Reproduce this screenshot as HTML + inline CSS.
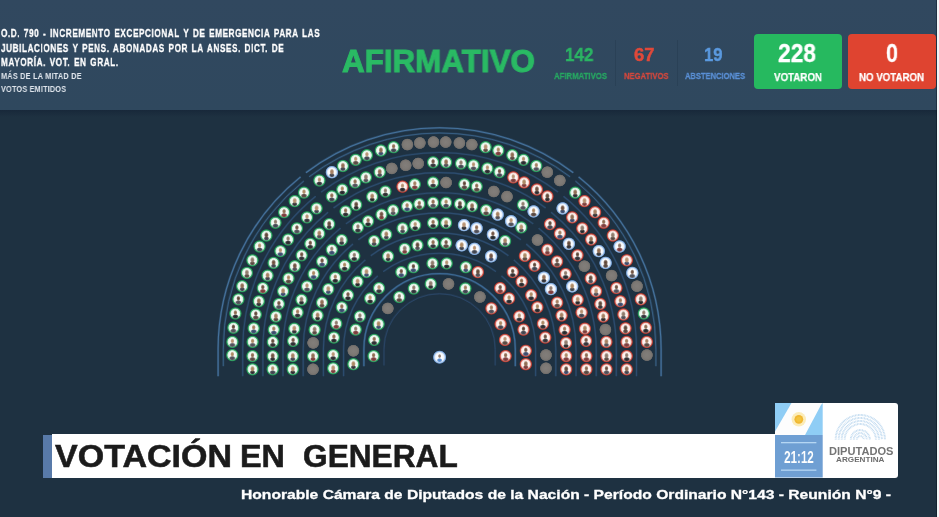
<!DOCTYPE html>
<html><head><meta charset="utf-8"><title>Votación</title>
<style>
html,body{margin:0;padding:0}
body{width:939px;height:517px;overflow:hidden;background:#1e3141;font-family:"Liberation Sans",sans-serif;position:relative}
.abs{position:absolute;white-space:nowrap;line-height:1}
#hdr{position:absolute;left:0;top:0;width:939px;height:110px;background:linear-gradient(#31485f,#2f485e)}
#shadow{position:absolute;left:0;top:110px;width:939px;height:7px;background:linear-gradient(#18283a,#1e3141)}
.t{font-weight:bold;color:#fff;transform-origin:0 0;will-change:transform}
#strip{position:absolute;left:936.8px;top:0;width:2.2px;height:517px;background:#f3f4f7}
#stripsh{position:absolute;left:935.5px;top:0;width:1.3px;height:517px;background:rgba(5,12,22,.38)}
.box{position:absolute;border-radius:4px}
</style></head><body>
<div id="hdr"></div><div id="shadow"></div>
<div class="abs t" id="l1" style="left:0.8px;top:28.1px;font-size:11.3px;letter-spacing:.8px;word-spacing:1.2px;-webkit-text-stroke:.3px #fff;transform:scale(0.7242,1)">O.D. 790 - INCREMENTO EXCEPCIONAL Y DE EMERGENCIA PARA LAS</div>
<div class="abs t" id="l2" style="left:0.8px;top:42.5px;font-size:11.3px;letter-spacing:.8px;word-spacing:1.2px;-webkit-text-stroke:.3px #fff;transform:scale(0.7243,1)">JUBILACIONES Y PENS. ABONADAS POR LA ANSES. DICT. DE</div>
<div class="abs t" id="l3" style="left:0.8px;top:56.8px;font-size:11.3px;letter-spacing:.8px;word-spacing:1.2px;-webkit-text-stroke:.3px #fff;transform:scale(0.7265,1)">MAYORÍA. VOT. EN GRAL.</div>
<div class="abs t" id="l4" style="left:0.8px;top:71.6px;font-size:9.2px;letter-spacing:.2px;color:#dfe5ec;transform:scale(0.8064,1)">MÁS DE LA MITAD DE</div>
<div class="abs t" id="l5" style="left:0.8px;top:85.1px;font-size:9.2px;letter-spacing:.2px;color:#dfe5ec;transform:scale(0.7974,1)">VOTOS EMITIDOS</div>
<div class="abs t" id="afi" style="left:342.0px;top:46.3px;font-size:31.5px;color:#2aba64;-webkit-text-stroke:1px #2aba64;transform:scale(0.9956,1)">AFIRMATIVO</div>
<div class="abs t" id="n1" style="left:565px;top:46.1px;font-size:18.5px;color:#2bb463;-webkit-text-stroke:.45px #2bb463;transform:scale(0.9231,1)">142</div>
<div class="abs t" id="c1" style="left:554px;top:71.2px;font-size:9.5px;color:#27a862;-webkit-text-stroke:.25px #27a862;transform:scale(0.8185,1.04)">AFIRMATIVOS</div>
<div class="abs t" id="n2" style="left:634px;top:46.1px;font-size:18.5px;color:#e0493a;-webkit-text-stroke:.45px #e0493a;transform:scale(0.9962,1)">67</div>
<div class="abs t" id="c2" style="left:624px;top:71.2px;font-size:9.5px;color:#d4483d;-webkit-text-stroke:.25px #d4483d;transform:scale(0.8054,1.04)">NEGATIVOS</div>
<div class="abs t" id="n3" style="left:704px;top:46.1px;font-size:18.5px;color:#5b9ae0;-webkit-text-stroke:.45px #5b9ae0;transform:scale(0.8990,1)">19</div>
<div class="abs t" id="c3" style="left:685px;top:71.2px;font-size:9.5px;color:#5a90d6;-webkit-text-stroke:.25px #5a90d6;transform:scale(0.7949,1.04)">ABSTENCIONES</div>
<div style="position:absolute;left:615px;top:40px;width:1px;height:46px;background:rgba(10,20,35,.13)"></div><div style="position:absolute;left:676.5px;top:40px;width:1px;height:46px;background:rgba(10,20,35,.13)"></div>
<div class="box" style="left:753.6px;top:34.2px;width:88.2px;height:54.5px;background:#26b95f"></div>
<div class="box" style="left:848px;top:34.2px;width:88.3px;height:54.5px;background:#df4430"></div>
<div class="abs t" id="v1" style="left:778.2px;top:41px;font-size:25px;-webkit-text-stroke:.3px #fff;transform:scale(0.9109,1)">228</div>
<div class="abs t" id="v2" style="left:773.6px;top:71.6px;font-size:11.5px;-webkit-text-stroke:.25px #fff;transform:scale(0.8472,1)">VOTARON</div>
<div class="abs t" id="w1" style="left:886.2px;top:41px;font-size:25px;-webkit-text-stroke:.3px #fff;transform:scale(0.8629,1)">0</div>
<div class="abs t" id="w2" style="left:859.3px;top:71.6px;font-size:11.5px;-webkit-text-stroke:.25px #fff;transform:scale(0.8444,1)">NO VOTARON</div>
<svg width="939" height="517" viewBox="0 0 939 517" style="position:absolute;left:0;top:0">
<defs>
<radialGradient id="gg"><stop offset="0" stop-color="#fbfefc"/><stop offset=".52" stop-color="#f1faf4"/><stop offset=".68" stop-color="#cdecd8"/><stop offset=".78" stop-color="#40ad72"/><stop offset=".86" stop-color="#27965a"/><stop offset=".93" stop-color="#1c7445" stop-opacity=".75"/><stop offset="1" stop-color="#1c7445" stop-opacity="0"/></radialGradient>
<radialGradient id="gr"><stop offset="0" stop-color="#fffcfb"/><stop offset=".52" stop-color="#fdf3f0"/><stop offset=".68" stop-color="#f3cdc6"/><stop offset=".78" stop-color="#d0645a"/><stop offset=".86" stop-color="#b6433a"/><stop offset=".93" stop-color="#88302b" stop-opacity=".75"/><stop offset="1" stop-color="#88302b" stop-opacity="0"/></radialGradient>
<radialGradient id="gb"><stop offset="0" stop-color="#fff"/><stop offset=".52" stop-color="#f9fbff"/><stop offset=".68" stop-color="#e0ebf8"/><stop offset=".78" stop-color="#a6c5ec"/><stop offset=".86" stop-color="#82abdc"/><stop offset=".93" stop-color="#6c95ca" stop-opacity=".75"/><stop offset="1" stop-color="#6c95ca" stop-opacity="0"/></radialGradient>
<radialGradient id="gx"><stop offset="0" stop-color="#827e7a"/><stop offset=".6" stop-color="#7d7975"/><stop offset=".82" stop-color="#76726e"/><stop offset=".92" stop-color="#75726e" stop-opacity=".8"/><stop offset="1" stop-color="#75726e" stop-opacity="0"/></radialGradient>
<radialGradient id="b0"><stop offset="0" stop-color="#2c2d33"/><stop offset=".55" stop-color="#2c2d33" stop-opacity=".9"/><stop offset="1" stop-color="#2c2d33" stop-opacity="0"/></radialGradient>
<radialGradient id="b1"><stop offset="0" stop-color="#3a3e4a"/><stop offset=".55" stop-color="#3a3e4a" stop-opacity=".9"/><stop offset="1" stop-color="#3a3e4a" stop-opacity="0"/></radialGradient>
<radialGradient id="b2"><stop offset="0" stop-color="#202226"/><stop offset=".55" stop-color="#202226" stop-opacity=".9"/><stop offset="1" stop-color="#202226" stop-opacity="0"/></radialGradient>
<radialGradient id="b3"><stop offset="0" stop-color="#54433c"/><stop offset=".55" stop-color="#54433c" stop-opacity=".9"/><stop offset="1" stop-color="#54433c" stop-opacity="0"/></radialGradient>
<radialGradient id="b4"><stop offset="0" stop-color="#35466a"/><stop offset=".55" stop-color="#35466a" stop-opacity=".9"/><stop offset="1" stop-color="#35466a" stop-opacity="0"/></radialGradient>
<radialGradient id="b5"><stop offset="0" stop-color="#26262a"/><stop offset=".55" stop-color="#26262a" stop-opacity=".9"/><stop offset="1" stop-color="#26262a" stop-opacity="0"/></radialGradient>
<radialGradient id="b6"><stop offset="0" stop-color="#7a3636"/><stop offset=".55" stop-color="#7a3636" stop-opacity=".9"/><stop offset="1" stop-color="#7a3636" stop-opacity="0"/></radialGradient>
<radialGradient id="b7"><stop offset="0" stop-color="#4a4a54"/><stop offset=".55" stop-color="#4a4a54" stop-opacity=".9"/><stop offset="1" stop-color="#4a4a54" stop-opacity="0"/></radialGradient>
<radialGradient id="h0"><stop offset="0" stop-color="#8a6448"/><stop offset=".5" stop-color="#8a6448" stop-opacity=".85"/><stop offset="1" stop-color="#8a6448" stop-opacity="0"/></radialGradient>
<radialGradient id="h1"><stop offset="0" stop-color="#a07858"/><stop offset=".5" stop-color="#a07858" stop-opacity=".85"/><stop offset="1" stop-color="#a07858" stop-opacity="0"/></radialGradient>
<radialGradient id="h2"><stop offset="0" stop-color="#6a4a38"/><stop offset=".5" stop-color="#6a4a38" stop-opacity=".85"/><stop offset="1" stop-color="#6a4a38" stop-opacity="0"/></radialGradient>
<radialGradient id="h3"><stop offset="0" stop-color="#b48c6a"/><stop offset=".5" stop-color="#b48c6a" stop-opacity=".85"/><stop offset="1" stop-color="#b48c6a" stop-opacity="0"/></radialGradient>
<radialGradient id="h4"><stop offset="0" stop-color="#8a7464"/><stop offset=".5" stop-color="#8a7464" stop-opacity=".85"/><stop offset="1" stop-color="#8a7464" stop-opacity="0"/></radialGradient>
<radialGradient id="h5"><stop offset="0" stop-color="#5a4030"/><stop offset=".5" stop-color="#5a4030" stop-opacity=".85"/><stop offset="1" stop-color="#5a4030" stop-opacity="0"/></radialGradient>
<radialGradient id="h6"><stop offset="0" stop-color="#a8825a"/><stop offset=".5" stop-color="#a8825a" stop-opacity=".85"/><stop offset="1" stop-color="#a8825a" stop-opacity="0"/></radialGradient>
<radialGradient id="bp"><stop offset="0" stop-color="#4f86cc"/><stop offset=".55" stop-color="#4f86cc" stop-opacity=".9"/><stop offset="1" stop-color="#4f86cc" stop-opacity="0"/></radialGradient>
</defs>
<g fill="none">
<path d="M218.1 376.3V349.35A221.5 221.5 0 0 1 300.6 176.9M305.9 172.7A221.5 221.5 0 0 1 573.3 172.7M578.6 176.9A221.5 221.5 0 0 1 661.1 349.35V376.3" stroke="#4a7aa8" stroke-width="2.3" opacity="0.32"/><path d="M218.1 376.3V349.35A221.5 221.5 0 0 1 300.6 176.9M305.9 172.7A221.5 221.5 0 0 1 573.3 172.7M578.6 176.9A221.5 221.5 0 0 1 661.1 349.35V376.3" stroke="#4a7aa8" stroke-width="1.1" opacity="0.85"/>
<path d="M223.3 366.2V349.35A216.3 216.3 0 0 1 303.8 181.0M309.1 176.8A216.3 216.3 0 0 1 570.1 176.8M575.4 181.0A216.3 216.3 0 0 1 655.9 349.35V366.2" stroke="#3d6890" stroke-width="2.2" opacity="0.29"/><path d="M223.3 366.2V349.35A216.3 216.3 0 0 1 303.8 181.0M309.1 176.8A216.3 216.3 0 0 1 570.1 176.8M575.4 181.0A216.3 216.3 0 0 1 655.9 349.35V366.2" stroke="#3d6890" stroke-width="1.0" opacity="0.75"/>
<path d="M242.7 376.3V349.35A196.9 196.9 0 0 1 315.7 196.3M321.1 192.1A196.9 196.9 0 0 1 558.1 192.1M563.5 196.3A196.9 196.9 0 0 1 636.5 349.35V376.3" stroke="#2f5074" stroke-width="2.3" opacity="0.32"/><path d="M242.7 376.3V349.35A196.9 196.9 0 0 1 315.7 196.3M321.1 192.1A196.9 196.9 0 0 1 558.1 192.1M563.5 196.3A196.9 196.9 0 0 1 636.5 349.35V376.3" stroke="#2f5074" stroke-width="1.1" opacity="0.85"/>
<path d="M262.9 376.3V349.35A176.7 176.7 0 0 1 328.1 212.2M333.5 208.0A176.7 176.7 0 0 1 545.7 208.0M551.1 212.2A176.7 176.7 0 0 1 616.3 349.35V376.3" stroke="#2f5074" stroke-width="2.3" opacity="0.32"/><path d="M262.9 376.3V349.35A176.7 176.7 0 0 1 328.1 212.2M333.5 208.0A176.7 176.7 0 0 1 545.7 208.0M551.1 212.2A176.7 176.7 0 0 1 616.3 349.35V376.3" stroke="#2f5074" stroke-width="1.1" opacity="0.85"/>
<path d="M283.0 376.3V349.35A156.6 156.6 0 0 1 340.6 228.1M345.9 223.9A156.6 156.6 0 0 1 533.3 223.9M538.6 228.1A156.6 156.6 0 0 1 596.2 349.35V376.3" stroke="#2f5074" stroke-width="2.3" opacity="0.32"/><path d="M283.0 376.3V349.35A156.6 156.6 0 0 1 340.6 228.1M345.9 223.9A156.6 156.6 0 0 1 533.3 223.9M538.6 228.1A156.6 156.6 0 0 1 596.2 349.35V376.3" stroke="#2f5074" stroke-width="1.1" opacity="0.85"/>
<path d="M303.2 376.3V349.35A136.4 136.4 0 0 1 353.0 244.0M358.3 239.8A136.4 136.4 0 0 1 520.9 239.8M526.2 244.0A136.4 136.4 0 0 1 576.0 349.35V376.3" stroke="#2f5074" stroke-width="2.3" opacity="0.32"/><path d="M303.2 376.3V349.35A136.4 136.4 0 0 1 353.0 244.0M358.3 239.8A136.4 136.4 0 0 1 520.9 239.8M526.2 244.0A136.4 136.4 0 0 1 576.0 349.35V376.3" stroke="#2f5074" stroke-width="1.1" opacity="0.85"/>
<path d="M323.4 376.3V349.35A116.2 116.2 0 0 1 365.4 259.9M370.8 255.7A116.2 116.2 0 0 1 508.4 255.7M513.8 259.9A116.2 116.2 0 0 1 555.8 349.35V376.3" stroke="#2f5074" stroke-width="2.3" opacity="0.32"/><path d="M323.4 376.3V349.35A116.2 116.2 0 0 1 365.4 259.9M370.8 255.7A116.2 116.2 0 0 1 508.4 255.7M513.8 259.9A116.2 116.2 0 0 1 555.8 349.35V376.3" stroke="#2f5074" stroke-width="1.1" opacity="0.85"/>
<path d="M343.6 376.3V349.35A96.0 96.0 0 0 1 377.8 275.8M383.2 271.6A96.0 96.0 0 0 1 496.0 271.6M501.4 275.8A96.0 96.0 0 0 1 535.6 349.35V376.3" stroke="#2f5074" stroke-width="2.3" opacity="0.32"/><path d="M343.6 376.3V349.35A96.0 96.0 0 0 1 377.8 275.8M383.2 271.6A96.0 96.0 0 0 1 496.0 271.6M501.4 275.8A96.0 96.0 0 0 1 535.6 349.35V376.3" stroke="#2f5074" stroke-width="1.1" opacity="0.85"/>
<path d="M363.9 366.3V349.35A75.7 75.7 0 0 1 515.3 349.35V366.3" stroke="#40709e" stroke-width="2.5" opacity="0.32"/><path d="M363.9 366.3V349.35A75.7 75.7 0 0 1 515.3 349.35V366.3" stroke="#40709e" stroke-width="1.3" opacity="0.85"/>
<path d="M384.0 365.5V349.35A55.6 55.6 0 0 1 495.2 349.35V365.5" stroke="#2c4a6c" stroke-width="2.2" opacity="0.29"/><path d="M384.0 365.5V349.35A55.6 55.6 0 0 1 495.2 349.35V365.5" stroke="#2c4a6c" stroke-width="1.0" opacity="0.75"/>
</g>
<g transform="translate(232.3 355.1)"><circle r="6.65" fill="url(#gg)"/><ellipse cy="3.1" rx="3.5" ry="2.5" fill="url(#b7)"/><ellipse cy="-.9" rx="2.2" ry="2.8" fill="url(#h6)"/></g>
<circle cx="646.9" cy="355.1" r="6.25" fill="url(#gx)"/>
<g transform="translate(232.4 341.9)"><circle r="6.65" fill="url(#gg)"/><ellipse cy="3.1" rx="3.5" ry="2.5" fill="url(#b7)"/><ellipse cy="-.9" rx="2.2" ry="2.8" fill="url(#h3)"/></g>
<g transform="translate(646.8 341.9)"><circle r="6.65" fill="url(#gr)"/><ellipse cy="3.1" rx="3.5" ry="2.5" fill="url(#b3)"/><ellipse cy="-.9" rx="2.2" ry="2.8" fill="url(#h1)"/></g>
<g transform="translate(233.4 327.7)"><circle r="6.65" fill="url(#gg)"/><ellipse cy="3.1" rx="3.5" ry="2.5" fill="url(#b7)"/><ellipse cy="-.9" rx="2.2" ry="2.8" fill="url(#h5)"/></g>
<g transform="translate(645.8 327.7)"><circle r="6.65" fill="url(#gr)"/><ellipse cy="3.1" rx="3.5" ry="2.5" fill="url(#b2)"/><ellipse cy="-.9" rx="2.2" ry="2.8" fill="url(#h0)"/></g>
<g transform="translate(235.4 313.5)"><circle r="6.65" fill="url(#gg)"/><ellipse cy="3.1" rx="3.5" ry="2.5" fill="url(#b2)"/><ellipse cy="-.9" rx="2.2" ry="2.8" fill="url(#h0)"/></g>
<g transform="translate(643.8 313.5)"><circle r="6.65" fill="url(#gg)"/><ellipse cy="3.1" rx="3.5" ry="2.5" fill="url(#b0)"/><ellipse cy="-.9" rx="2.2" ry="2.8" fill="url(#h4)"/></g>
<g transform="translate(238.4 299.3)"><circle r="6.65" fill="url(#gg)"/><ellipse cy="3.1" rx="3.5" ry="2.5" fill="url(#b7)"/><ellipse cy="-.9" rx="2.2" ry="2.8" fill="url(#h5)"/></g>
<g transform="translate(640.8 299.3)"><circle r="6.65" fill="url(#gr)"/><ellipse cy="3" rx="3" ry="2.4" fill="url(#b2)"/><ellipse cy="-.4" rx="2.5" ry="3.3" fill="url(#h4)"/></g>
<g transform="translate(242.2 286.2)"><circle r="6.65" fill="url(#gg)"/><ellipse cy="3" rx="3" ry="2.4" fill="url(#b1)"/><ellipse cy="-.4" rx="2.5" ry="3.3" fill="url(#h0)"/></g>
<circle cx="637.0" cy="286.2" r="6.25" fill="url(#gx)"/>
<g transform="translate(246.9 272.9)"><circle r="6.65" fill="url(#gg)"/><ellipse cy="3" rx="3" ry="2.4" fill="url(#b3)"/><ellipse cy="-.4" rx="2.5" ry="3.3" fill="url(#h4)"/></g>
<g transform="translate(632.3 272.9)"><circle r="6.65" fill="url(#gb)"/><ellipse cy="3.1" rx="3.5" ry="2.5" fill="url(#b7)"/><ellipse cy="-.9" rx="2.2" ry="2.8" fill="url(#h2)"/></g>
<g transform="translate(252.4 260.3)"><circle r="6.65" fill="url(#gg)"/><ellipse cy="3" rx="3" ry="2.4" fill="url(#b3)"/><ellipse cy="-.4" rx="2.5" ry="3.3" fill="url(#h4)"/></g>
<g transform="translate(626.8 260.3)"><circle r="6.65" fill="url(#gr)"/><ellipse cy="3" rx="3" ry="2.4" fill="url(#b4)"/><ellipse cy="-.4" rx="2.5" ry="3.3" fill="url(#h3)"/></g>
<g transform="translate(259.6 246.5)"><circle r="6.65" fill="url(#gg)"/><ellipse cy="3.1" rx="3.5" ry="2.5" fill="url(#b1)"/><ellipse cy="-.9" rx="2.2" ry="2.8" fill="url(#h3)"/></g>
<g transform="translate(619.6 246.5)"><circle r="6.65" fill="url(#gb)"/><ellipse cy="3.1" rx="3.5" ry="2.5" fill="url(#b6)"/><ellipse cy="-.9" rx="2.2" ry="2.8" fill="url(#h4)"/></g>
<g transform="translate(266.4 235.5)"><circle r="6.65" fill="url(#gg)"/><ellipse cy="3" rx="3" ry="2.4" fill="url(#b1)"/><ellipse cy="-.4" rx="2.5" ry="3.3" fill="url(#h5)"/></g>
<g transform="translate(612.8 235.5)"><circle r="6.65" fill="url(#gr)"/><ellipse cy="3" rx="3" ry="2.4" fill="url(#b3)"/><ellipse cy="-.4" rx="2.5" ry="3.3" fill="url(#h4)"/></g>
<g transform="translate(275.5 222.7)"><circle r="6.65" fill="url(#gg)"/><ellipse cy="3.1" rx="3.5" ry="2.5" fill="url(#b1)"/><ellipse cy="-.9" rx="2.2" ry="2.8" fill="url(#h4)"/></g>
<g transform="translate(603.7 222.7)"><circle r="6.65" fill="url(#gr)"/><ellipse cy="3.1" rx="3.5" ry="2.5" fill="url(#b6)"/><ellipse cy="-.9" rx="2.2" ry="2.8" fill="url(#h0)"/></g>
<g transform="translate(284.1 212.2)"><circle r="6.65" fill="url(#gg)"/><ellipse cy="3.1" rx="3.5" ry="2.5" fill="url(#b6)"/><ellipse cy="-.9" rx="2.2" ry="2.8" fill="url(#h0)"/></g>
<g transform="translate(595.1 212.2)"><circle r="6.65" fill="url(#gr)"/><ellipse cy="3" rx="3" ry="2.4" fill="url(#b0)"/><ellipse cy="-.4" rx="2.5" ry="3.3" fill="url(#h1)"/></g>
<g transform="translate(294.7 201.1)"><circle r="6.65" fill="url(#gg)"/><ellipse cy="3" rx="3" ry="2.4" fill="url(#b0)"/><ellipse cy="-.4" rx="2.5" ry="3.3" fill="url(#h3)"/></g>
<g transform="translate(584.5 201.1)"><circle r="6.65" fill="url(#gr)"/><ellipse cy="3" rx="3" ry="2.4" fill="url(#b6)"/><ellipse cy="-.4" rx="2.5" ry="3.3" fill="url(#h3)"/></g>
<g transform="translate(304.0 192.6)"><circle r="6.65" fill="url(#gg)"/><ellipse cy="3.1" rx="3.5" ry="2.5" fill="url(#b3)"/><ellipse cy="-.9" rx="2.2" ry="2.8" fill="url(#h6)"/></g>
<g transform="translate(575.2 192.6)"><circle r="6.65" fill="url(#gg)"/><ellipse cy="3" rx="3" ry="2.4" fill="url(#b5)"/><ellipse cy="-.4" rx="2.5" ry="3.3" fill="url(#h0)"/></g>
<g transform="translate(319.4 180.5)"><circle r="6.65" fill="url(#gg)"/><ellipse cy="3.1" rx="3.5" ry="2.5" fill="url(#b0)"/><ellipse cy="-.9" rx="2.2" ry="2.8" fill="url(#h3)"/></g>
<circle cx="559.8" cy="180.5" r="6.25" fill="url(#gx)"/>
<g transform="translate(331.9 172.2)"><circle r="6.65" fill="url(#gb)"/><ellipse cy="3" rx="3" ry="2.4" fill="url(#b1)"/><ellipse cy="-.4" rx="2.5" ry="3.3" fill="url(#h1)"/></g>
<circle cx="547.3" cy="172.2" r="6.25" fill="url(#gx)"/>
<g transform="translate(342.9 166.0)"><circle r="6.65" fill="url(#gg)"/><ellipse cy="3" rx="3" ry="2.4" fill="url(#b1)"/><ellipse cy="-.4" rx="2.5" ry="3.3" fill="url(#h0)"/></g>
<g transform="translate(536.3 166.0)"><circle r="6.65" fill="url(#gg)"/><ellipse cy="3.1" rx="3.5" ry="2.5" fill="url(#b7)"/><ellipse cy="-.9" rx="2.2" ry="2.8" fill="url(#h1)"/></g>
<g transform="translate(355.7 159.8)"><circle r="6.65" fill="url(#gg)"/><ellipse cy="3.1" rx="3.5" ry="2.5" fill="url(#b3)"/><ellipse cy="-.9" rx="2.2" ry="2.8" fill="url(#h3)"/></g>
<g transform="translate(523.5 159.8)"><circle r="6.65" fill="url(#gg)"/><ellipse cy="3.1" rx="3.5" ry="2.5" fill="url(#b2)"/><ellipse cy="-.9" rx="2.2" ry="2.8" fill="url(#h3)"/></g>
<g transform="translate(366.9 155.2)"><circle r="6.65" fill="url(#gg)"/><ellipse cy="3.1" rx="3.5" ry="2.5" fill="url(#b1)"/><ellipse cy="-.9" rx="2.2" ry="2.8" fill="url(#h3)"/></g>
<g transform="translate(512.3 155.2)"><circle r="6.65" fill="url(#gg)"/><ellipse cy="3" rx="3" ry="2.4" fill="url(#b3)"/><ellipse cy="-.4" rx="2.5" ry="3.3" fill="url(#h0)"/></g>
<g transform="translate(380.9 150.5)"><circle r="6.65" fill="url(#gg)"/><ellipse cy="3" rx="3" ry="2.4" fill="url(#b4)"/><ellipse cy="-.4" rx="2.5" ry="3.3" fill="url(#h0)"/></g>
<g transform="translate(498.3 150.5)"><circle r="6.65" fill="url(#gg)"/><ellipse cy="3.1" rx="3.5" ry="2.5" fill="url(#b6)"/><ellipse cy="-.9" rx="2.2" ry="2.8" fill="url(#h6)"/></g>
<g transform="translate(393.6 147.2)"><circle r="6.65" fill="url(#gg)"/><ellipse cy="3.1" rx="3.5" ry="2.5" fill="url(#b1)"/><ellipse cy="-.9" rx="2.2" ry="2.8" fill="url(#h0)"/></g>
<g transform="translate(485.6 147.2)"><circle r="6.65" fill="url(#gg)"/><ellipse cy="3" rx="3" ry="2.4" fill="url(#b3)"/><ellipse cy="-.4" rx="2.5" ry="3.3" fill="url(#h3)"/></g>
<circle cx="407.4" cy="144.6" r="6.25" fill="url(#gx)"/>
<circle cx="471.8" cy="144.6" r="6.25" fill="url(#gx)"/>
<circle cx="419.8" cy="143.0" r="6.25" fill="url(#gx)"/>
<circle cx="459.4" cy="143.0" r="6.25" fill="url(#gx)"/>
<circle cx="433.5" cy="142.1" r="6.25" fill="url(#gx)"/>
<circle cx="445.7" cy="142.1" r="6.25" fill="url(#gx)"/>
<g transform="translate(252.5 369.3)"><circle r="6.65" fill="url(#gg)"/><ellipse cy="3" rx="3" ry="2.4" fill="url(#b5)"/><ellipse cy="-.4" rx="2.5" ry="3.3" fill="url(#h6)"/></g>
<g transform="translate(626.7 369.3)"><circle r="6.65" fill="url(#gr)"/><ellipse cy="3" rx="3" ry="2.4" fill="url(#b1)"/><ellipse cy="-.4" rx="2.5" ry="3.3" fill="url(#h0)"/></g>
<g transform="translate(252.5 356.1)"><circle r="6.65" fill="url(#gg)"/><ellipse cy="3.1" rx="3.5" ry="2.5" fill="url(#b3)"/><ellipse cy="-.9" rx="2.2" ry="2.8" fill="url(#h0)"/></g>
<g transform="translate(626.7 356.1)"><circle r="6.65" fill="url(#gr)"/><ellipse cy="3.1" rx="3.5" ry="2.5" fill="url(#b5)"/><ellipse cy="-.9" rx="2.2" ry="2.8" fill="url(#h4)"/></g>
<g transform="translate(252.6 341.9)"><circle r="6.65" fill="url(#gg)"/><ellipse cy="3.1" rx="3.5" ry="2.5" fill="url(#b7)"/><ellipse cy="-.9" rx="2.2" ry="2.8" fill="url(#h6)"/></g>
<g transform="translate(626.6 341.9)"><circle r="6.65" fill="url(#gr)"/><ellipse cy="3.1" rx="3.5" ry="2.5" fill="url(#b6)"/><ellipse cy="-.9" rx="2.2" ry="2.8" fill="url(#h1)"/></g>
<g transform="translate(253.7 328.3)"><circle r="6.65" fill="url(#gg)"/><ellipse cy="3.1" rx="3.5" ry="2.5" fill="url(#b4)"/><ellipse cy="-.9" rx="2.2" ry="2.8" fill="url(#h1)"/></g>
<g transform="translate(625.5 328.3)"><circle r="6.65" fill="url(#gr)"/><ellipse cy="3" rx="3" ry="2.4" fill="url(#b3)"/><ellipse cy="-.4" rx="2.5" ry="3.3" fill="url(#h5)"/></g>
<g transform="translate(255.8 314.5)"><circle r="6.65" fill="url(#gg)"/><ellipse cy="3.1" rx="3.5" ry="2.5" fill="url(#b3)"/><ellipse cy="-.9" rx="2.2" ry="2.8" fill="url(#h5)"/></g>
<g transform="translate(623.4 314.5)"><circle r="6.65" fill="url(#gr)"/><ellipse cy="3" rx="3" ry="2.4" fill="url(#b7)"/><ellipse cy="-.4" rx="2.5" ry="3.3" fill="url(#h4)"/></g>
<g transform="translate(258.8 301.3)"><circle r="6.65" fill="url(#gg)"/><ellipse cy="3" rx="3" ry="2.4" fill="url(#b0)"/><ellipse cy="-.4" rx="2.5" ry="3.3" fill="url(#h0)"/></g>
<g transform="translate(620.4 301.3)"><circle r="6.65" fill="url(#gr)"/><ellipse cy="3.1" rx="3.5" ry="2.5" fill="url(#b4)"/><ellipse cy="-.9" rx="2.2" ry="2.8" fill="url(#h1)"/></g>
<g transform="translate(262.8 288.0)"><circle r="6.65" fill="url(#gg)"/><ellipse cy="3.1" rx="3.5" ry="2.5" fill="url(#b6)"/><ellipse cy="-.9" rx="2.2" ry="2.8" fill="url(#h2)"/></g>
<g transform="translate(616.4 288.0)"><circle r="6.65" fill="url(#gr)"/><ellipse cy="3.1" rx="3.5" ry="2.5" fill="url(#b7)"/><ellipse cy="-.9" rx="2.2" ry="2.8" fill="url(#h2)"/></g>
<g transform="translate(267.6 275.6)"><circle r="6.65" fill="url(#gg)"/><ellipse cy="3" rx="3" ry="2.4" fill="url(#b1)"/><ellipse cy="-.4" rx="2.5" ry="3.3" fill="url(#h1)"/></g>
<circle cx="611.6" cy="275.6" r="6.25" fill="url(#gx)"/>
<g transform="translate(273.6 262.9)"><circle r="6.65" fill="url(#gg)"/><ellipse cy="3" rx="3" ry="2.4" fill="url(#b1)"/><ellipse cy="-.4" rx="2.5" ry="3.3" fill="url(#h2)"/></g>
<g transform="translate(605.6 262.9)"><circle r="6.65" fill="url(#gb)"/><ellipse cy="3" rx="3" ry="2.4" fill="url(#b3)"/><ellipse cy="-.4" rx="2.5" ry="3.3" fill="url(#h5)"/></g>
<g transform="translate(280.4 251.1)"><circle r="6.65" fill="url(#gg)"/><ellipse cy="3.1" rx="3.5" ry="2.5" fill="url(#b4)"/><ellipse cy="-.9" rx="2.2" ry="2.8" fill="url(#h3)"/></g>
<g transform="translate(598.8 251.1)"><circle r="6.65" fill="url(#gb)"/><ellipse cy="3" rx="3" ry="2.4" fill="url(#b0)"/><ellipse cy="-.4" rx="2.5" ry="3.3" fill="url(#h0)"/></g>
<g transform="translate(288.1 239.5)"><circle r="6.65" fill="url(#gg)"/><ellipse cy="3.1" rx="3.5" ry="2.5" fill="url(#b5)"/><ellipse cy="-.9" rx="2.2" ry="2.8" fill="url(#h4)"/></g>
<g transform="translate(591.1 239.5)"><circle r="6.65" fill="url(#gr)"/><ellipse cy="3" rx="3" ry="2.4" fill="url(#b2)"/><ellipse cy="-.4" rx="2.5" ry="3.3" fill="url(#h0)"/></g>
<g transform="translate(296.9 228.4)"><circle r="6.65" fill="url(#gg)"/><ellipse cy="3.1" rx="3.5" ry="2.5" fill="url(#b7)"/><ellipse cy="-.9" rx="2.2" ry="2.8" fill="url(#h2)"/></g>
<g transform="translate(582.3 228.4)"><circle r="6.65" fill="url(#gr)"/><ellipse cy="3" rx="3" ry="2.4" fill="url(#b2)"/><ellipse cy="-.4" rx="2.5" ry="3.3" fill="url(#h4)"/></g>
<g transform="translate(307.0 217.4)"><circle r="6.65" fill="url(#gg)"/><ellipse cy="3.1" rx="3.5" ry="2.5" fill="url(#b0)"/><ellipse cy="-.9" rx="2.2" ry="2.8" fill="url(#h3)"/></g>
<g transform="translate(572.2 217.4)"><circle r="6.65" fill="url(#gr)"/><ellipse cy="3" rx="3" ry="2.4" fill="url(#b4)"/><ellipse cy="-.4" rx="2.5" ry="3.3" fill="url(#h0)"/></g>
<g transform="translate(316.6 208.4)"><circle r="6.65" fill="url(#gg)"/><ellipse cy="3" rx="3" ry="2.4" fill="url(#b1)"/><ellipse cy="-.4" rx="2.5" ry="3.3" fill="url(#h3)"/></g>
<g transform="translate(562.6 208.4)"><circle r="6.65" fill="url(#gb)"/><ellipse cy="3" rx="3" ry="2.4" fill="url(#b4)"/><ellipse cy="-.4" rx="2.5" ry="3.3" fill="url(#h2)"/></g>
<g transform="translate(331.8 196.4)"><circle r="6.65" fill="url(#gg)"/><ellipse cy="3.1" rx="3.5" ry="2.5" fill="url(#b1)"/><ellipse cy="-.9" rx="2.2" ry="2.8" fill="url(#h0)"/></g>
<g transform="translate(547.4 196.4)"><circle r="6.65" fill="url(#gr)"/><ellipse cy="3" rx="3" ry="2.4" fill="url(#b5)"/><ellipse cy="-.4" rx="2.5" ry="3.3" fill="url(#h5)"/></g>
<g transform="translate(342.3 189.5)"><circle r="6.65" fill="url(#gg)"/><ellipse cy="3.1" rx="3.5" ry="2.5" fill="url(#b2)"/><ellipse cy="-.9" rx="2.2" ry="2.8" fill="url(#h6)"/></g>
<g transform="translate(536.9 189.5)"><circle r="6.65" fill="url(#gr)"/><ellipse cy="3" rx="3" ry="2.4" fill="url(#b5)"/><ellipse cy="-.4" rx="2.5" ry="3.3" fill="url(#h2)"/></g>
<g transform="translate(355.1 182.4)"><circle r="6.65" fill="url(#gg)"/><ellipse cy="3.1" rx="3.5" ry="2.5" fill="url(#b7)"/><ellipse cy="-.9" rx="2.2" ry="2.8" fill="url(#h0)"/></g>
<g transform="translate(524.1 182.4)"><circle r="6.65" fill="url(#gr)"/><ellipse cy="3" rx="3" ry="2.4" fill="url(#b6)"/><ellipse cy="-.4" rx="2.5" ry="3.3" fill="url(#h6)"/></g>
<g transform="translate(365.9 177.4)"><circle r="6.65" fill="url(#gg)"/><ellipse cy="3" rx="3" ry="2.4" fill="url(#b7)"/><ellipse cy="-.4" rx="2.5" ry="3.3" fill="url(#h4)"/></g>
<g transform="translate(513.3 177.4)"><circle r="6.65" fill="url(#gr)"/><ellipse cy="3.1" rx="3.5" ry="2.5" fill="url(#b6)"/><ellipse cy="-.9" rx="2.2" ry="2.8" fill="url(#h3)"/></g>
<g transform="translate(379.7 172.1)"><circle r="6.65" fill="url(#gg)"/><ellipse cy="3" rx="3" ry="2.4" fill="url(#b1)"/><ellipse cy="-.4" rx="2.5" ry="3.3" fill="url(#h0)"/></g>
<g transform="translate(499.5 172.1)"><circle r="6.65" fill="url(#gg)"/><ellipse cy="3.1" rx="3.5" ry="2.5" fill="url(#b1)"/><ellipse cy="-.9" rx="2.2" ry="2.8" fill="url(#h2)"/></g>
<circle cx="391.8" cy="168.4" r="6.25" fill="url(#gx)"/>
<g transform="translate(487.4 168.4)"><circle r="6.65" fill="url(#gg)"/><ellipse cy="3.1" rx="3.5" ry="2.5" fill="url(#b5)"/><ellipse cy="-.9" rx="2.2" ry="2.8" fill="url(#h3)"/></g>
<circle cx="405.7" cy="165.3" r="6.25" fill="url(#gx)"/>
<g transform="translate(473.5 165.3)"><circle r="6.65" fill="url(#gg)"/><ellipse cy="3.1" rx="3.5" ry="2.5" fill="url(#b7)"/><ellipse cy="-.9" rx="2.2" ry="2.8" fill="url(#h3)"/></g>
<circle cx="418.2" cy="163.5" r="6.25" fill="url(#gx)"/>
<g transform="translate(461.0 163.5)"><circle r="6.65" fill="url(#gg)"/><ellipse cy="3.1" rx="3.5" ry="2.5" fill="url(#b1)"/><ellipse cy="-.9" rx="2.2" ry="2.8" fill="url(#h4)"/></g>
<g transform="translate(433.1 162.3)"><circle r="6.65" fill="url(#gg)"/><ellipse cy="3.1" rx="3.5" ry="2.5" fill="url(#b0)"/><ellipse cy="-.9" rx="2.2" ry="2.8" fill="url(#h2)"/></g>
<g transform="translate(446.1 162.3)"><circle r="6.65" fill="url(#gg)"/><ellipse cy="3" rx="3" ry="2.4" fill="url(#b7)"/><ellipse cy="-.4" rx="2.5" ry="3.3" fill="url(#h0)"/></g>
<g transform="translate(272.7 369.3)"><circle r="6.65" fill="url(#gg)"/><ellipse cy="3.1" rx="3.5" ry="2.5" fill="url(#b1)"/><ellipse cy="-.9" rx="2.2" ry="2.8" fill="url(#h3)"/></g>
<g transform="translate(606.5 369.3)"><circle r="6.65" fill="url(#gr)"/><ellipse cy="3.1" rx="3.5" ry="2.5" fill="url(#b7)"/><ellipse cy="-.9" rx="2.2" ry="2.8" fill="url(#h2)"/></g>
<g transform="translate(272.7 356.1)"><circle r="6.65" fill="url(#gg)"/><ellipse cy="3" rx="3" ry="2.4" fill="url(#b5)"/><ellipse cy="-.4" rx="2.5" ry="3.3" fill="url(#h2)"/></g>
<g transform="translate(606.5 356.1)"><circle r="6.65" fill="url(#gr)"/><ellipse cy="3" rx="3" ry="2.4" fill="url(#b3)"/><ellipse cy="-.4" rx="2.5" ry="3.3" fill="url(#h4)"/></g>
<g transform="translate(272.8 341.9)"><circle r="6.65" fill="url(#gg)"/><ellipse cy="3.1" rx="3.5" ry="2.5" fill="url(#b5)"/><ellipse cy="-.9" rx="2.2" ry="2.8" fill="url(#h5)"/></g>
<g transform="translate(606.4 341.9)"><circle r="6.65" fill="url(#gr)"/><ellipse cy="3" rx="3" ry="2.4" fill="url(#b7)"/><ellipse cy="-.4" rx="2.5" ry="3.3" fill="url(#h1)"/></g>
<g transform="translate(273.8 329.6)"><circle r="6.65" fill="url(#gg)"/><ellipse cy="3.1" rx="3.5" ry="2.5" fill="url(#b4)"/><ellipse cy="-.9" rx="2.2" ry="2.8" fill="url(#h1)"/></g>
<circle cx="605.4" cy="329.6" r="6.25" fill="url(#gx)"/>
<g transform="translate(275.9 316.5)"><circle r="6.65" fill="url(#gg)"/><ellipse cy="3" rx="3" ry="2.4" fill="url(#b3)"/><ellipse cy="-.4" rx="2.5" ry="3.3" fill="url(#h1)"/></g>
<g transform="translate(603.3 316.5)"><circle r="6.65" fill="url(#gr)"/><ellipse cy="3" rx="3" ry="2.4" fill="url(#b5)"/><ellipse cy="-.4" rx="2.5" ry="3.3" fill="url(#h1)"/></g>
<g transform="translate(278.9 304.0)"><circle r="6.65" fill="url(#gg)"/><ellipse cy="3.1" rx="3.5" ry="2.5" fill="url(#b7)"/><ellipse cy="-.9" rx="2.2" ry="2.8" fill="url(#h2)"/></g>
<g transform="translate(600.3 304.0)"><circle r="6.65" fill="url(#gr)"/><ellipse cy="3" rx="3" ry="2.4" fill="url(#b0)"/><ellipse cy="-.4" rx="2.5" ry="3.3" fill="url(#h5)"/></g>
<g transform="translate(283.1 291.2)"><circle r="6.65" fill="url(#gg)"/><ellipse cy="3" rx="3" ry="2.4" fill="url(#b4)"/><ellipse cy="-.4" rx="2.5" ry="3.3" fill="url(#h6)"/></g>
<g transform="translate(596.1 291.2)"><circle r="6.65" fill="url(#gr)"/><ellipse cy="3" rx="3" ry="2.4" fill="url(#b7)"/><ellipse cy="-.4" rx="2.5" ry="3.3" fill="url(#h3)"/></g>
<g transform="translate(288.5 278.4)"><circle r="6.65" fill="url(#gg)"/><ellipse cy="3.1" rx="3.5" ry="2.5" fill="url(#b3)"/><ellipse cy="-.9" rx="2.2" ry="2.8" fill="url(#h6)"/></g>
<g transform="translate(590.7 278.4)"><circle r="6.65" fill="url(#gr)"/><ellipse cy="3" rx="3" ry="2.4" fill="url(#b7)"/><ellipse cy="-.4" rx="2.5" ry="3.3" fill="url(#h5)"/></g>
<g transform="translate(294.8 266.2)"><circle r="6.65" fill="url(#gg)"/><ellipse cy="3" rx="3" ry="2.4" fill="url(#b7)"/><ellipse cy="-.4" rx="2.5" ry="3.3" fill="url(#h2)"/></g>
<circle cx="584.4" cy="266.2" r="6.25" fill="url(#gx)"/>
<g transform="translate(301.7 255.3)"><circle r="6.65" fill="url(#gg)"/><ellipse cy="3.1" rx="3.5" ry="2.5" fill="url(#b0)"/><ellipse cy="-.9" rx="2.2" ry="2.8" fill="url(#h2)"/></g>
<g transform="translate(577.5 255.3)"><circle r="6.65" fill="url(#gr)"/><ellipse cy="3.1" rx="3.5" ry="2.5" fill="url(#b0)"/><ellipse cy="-.9" rx="2.2" ry="2.8" fill="url(#h5)"/></g>
<g transform="translate(310.3 243.8)"><circle r="6.65" fill="url(#gg)"/><ellipse cy="3.1" rx="3.5" ry="2.5" fill="url(#b5)"/><ellipse cy="-.9" rx="2.2" ry="2.8" fill="url(#h2)"/></g>
<g transform="translate(568.9 243.8)"><circle r="6.65" fill="url(#gb)"/><ellipse cy="3" rx="3" ry="2.4" fill="url(#b0)"/><ellipse cy="-.4" rx="2.5" ry="3.3" fill="url(#h5)"/></g>
<g transform="translate(319.3 233.6)"><circle r="6.65" fill="url(#gg)"/><ellipse cy="3" rx="3" ry="2.4" fill="url(#b7)"/><ellipse cy="-.4" rx="2.5" ry="3.3" fill="url(#h1)"/></g>
<g transform="translate(559.9 233.6)"><circle r="6.65" fill="url(#gr)"/><ellipse cy="3.1" rx="3.5" ry="2.5" fill="url(#b4)"/><ellipse cy="-.9" rx="2.2" ry="2.8" fill="url(#h1)"/></g>
<g transform="translate(329.2 224.1)"><circle r="6.65" fill="url(#gg)"/><ellipse cy="3" rx="3" ry="2.4" fill="url(#b0)"/><ellipse cy="-.4" rx="2.5" ry="3.3" fill="url(#h5)"/></g>
<g transform="translate(550.0 224.1)"><circle r="6.65" fill="url(#gr)"/><ellipse cy="3.1" rx="3.5" ry="2.5" fill="url(#b1)"/><ellipse cy="-.9" rx="2.2" ry="2.8" fill="url(#h5)"/></g>
<g transform="translate(345.6 211.4)"><circle r="6.65" fill="url(#gg)"/><ellipse cy="3.1" rx="3.5" ry="2.5" fill="url(#b5)"/><ellipse cy="-.9" rx="2.2" ry="2.8" fill="url(#h0)"/></g>
<g transform="translate(533.6 211.4)"><circle r="6.65" fill="url(#gb)"/><ellipse cy="3.1" rx="3.5" ry="2.5" fill="url(#b3)"/><ellipse cy="-.9" rx="2.2" ry="2.8" fill="url(#h6)"/></g>
<g transform="translate(356.2 204.8)"><circle r="6.65" fill="url(#gg)"/><ellipse cy="3" rx="3" ry="2.4" fill="url(#b2)"/><ellipse cy="-.4" rx="2.5" ry="3.3" fill="url(#h5)"/></g>
<g transform="translate(523.0 204.8)"><circle r="6.65" fill="url(#gg)"/><ellipse cy="3.1" rx="3.5" ry="2.5" fill="url(#b7)"/><ellipse cy="-.9" rx="2.2" ry="2.8" fill="url(#h4)"/></g>
<g transform="translate(372.2 196.6)"><circle r="6.65" fill="url(#gg)"/><ellipse cy="3" rx="3" ry="2.4" fill="url(#b2)"/><ellipse cy="-.4" rx="2.5" ry="3.3" fill="url(#h1)"/></g>
<circle cx="507.0" cy="196.6" r="6.25" fill="url(#gx)"/>
<g transform="translate(385.4 191.5)"><circle r="6.65" fill="url(#gg)"/><ellipse cy="3.1" rx="3.5" ry="2.5" fill="url(#b5)"/><ellipse cy="-.9" rx="2.2" ry="2.8" fill="url(#h4)"/></g>
<circle cx="493.8" cy="191.5" r="6.25" fill="url(#gx)"/>
<g transform="translate(402.5 186.6)"><circle r="6.65" fill="url(#gr)"/><ellipse cy="3.1" rx="3.5" ry="2.5" fill="url(#b2)"/><ellipse cy="-.9" rx="2.2" ry="2.8" fill="url(#h3)"/></g>
<g transform="translate(476.7 186.6)"><circle r="6.65" fill="url(#gg)"/><ellipse cy="3.1" rx="3.5" ry="2.5" fill="url(#b3)"/><ellipse cy="-.9" rx="2.2" ry="2.8" fill="url(#h0)"/></g>
<g transform="translate(414.8 184.3)"><circle r="6.65" fill="url(#gg)"/><ellipse cy="3.1" rx="3.5" ry="2.5" fill="url(#b6)"/><ellipse cy="-.9" rx="2.2" ry="2.8" fill="url(#h1)"/></g>
<g transform="translate(464.4 184.3)"><circle r="6.65" fill="url(#gg)"/><ellipse cy="3.1" rx="3.5" ry="2.5" fill="url(#b3)"/><ellipse cy="-.9" rx="2.2" ry="2.8" fill="url(#h5)"/></g>
<g transform="translate(433.1 182.5)"><circle r="6.65" fill="url(#gg)"/><ellipse cy="3.1" rx="3.5" ry="2.5" fill="url(#b0)"/><ellipse cy="-.9" rx="2.2" ry="2.8" fill="url(#h3)"/></g>
<circle cx="446.1" cy="182.5" r="6.25" fill="url(#gx)"/>
<g transform="translate(292.8 369.3)"><circle r="6.65" fill="url(#gg)"/><ellipse cy="3" rx="3" ry="2.4" fill="url(#b5)"/><ellipse cy="-.4" rx="2.5" ry="3.3" fill="url(#h3)"/></g>
<g transform="translate(586.4 369.3)"><circle r="6.65" fill="url(#gr)"/><ellipse cy="3.1" rx="3.5" ry="2.5" fill="url(#b3)"/><ellipse cy="-.9" rx="2.2" ry="2.8" fill="url(#h0)"/></g>
<g transform="translate(292.8 356.1)"><circle r="6.65" fill="url(#gg)"/><ellipse cy="3" rx="3" ry="2.4" fill="url(#b1)"/><ellipse cy="-.4" rx="2.5" ry="3.3" fill="url(#h1)"/></g>
<g transform="translate(586.4 356.1)"><circle r="6.65" fill="url(#gr)"/><ellipse cy="3.1" rx="3.5" ry="2.5" fill="url(#b6)"/><ellipse cy="-.9" rx="2.2" ry="2.8" fill="url(#h0)"/></g>
<g transform="translate(293.1 340.9)"><circle r="6.65" fill="url(#gg)"/><ellipse cy="3.1" rx="3.5" ry="2.5" fill="url(#b5)"/><ellipse cy="-.9" rx="2.2" ry="2.8" fill="url(#h2)"/></g>
<g transform="translate(586.1 340.9)"><circle r="6.65" fill="url(#gr)"/><ellipse cy="3.1" rx="3.5" ry="2.5" fill="url(#b0)"/><ellipse cy="-.9" rx="2.2" ry="2.8" fill="url(#h2)"/></g>
<g transform="translate(294.3 328.7)"><circle r="6.65" fill="url(#gg)"/><ellipse cy="3" rx="3" ry="2.4" fill="url(#b0)"/><ellipse cy="-.4" rx="2.5" ry="3.3" fill="url(#h3)"/></g>
<g transform="translate(584.9 328.7)"><circle r="6.65" fill="url(#gr)"/><ellipse cy="3" rx="3" ry="2.4" fill="url(#b6)"/><ellipse cy="-.4" rx="2.5" ry="3.3" fill="url(#h6)"/></g>
<g transform="translate(297.6 312.5)"><circle r="6.65" fill="url(#gg)"/><ellipse cy="3.1" rx="3.5" ry="2.5" fill="url(#b0)"/><ellipse cy="-.9" rx="2.2" ry="2.8" fill="url(#h1)"/></g>
<g transform="translate(581.6 312.5)"><circle r="6.65" fill="url(#gr)"/><ellipse cy="3.1" rx="3.5" ry="2.5" fill="url(#b1)"/><ellipse cy="-.9" rx="2.2" ry="2.8" fill="url(#h3)"/></g>
<g transform="translate(301.5 299.7)"><circle r="6.65" fill="url(#gg)"/><ellipse cy="3" rx="3" ry="2.4" fill="url(#b2)"/><ellipse cy="-.4" rx="2.5" ry="3.3" fill="url(#h4)"/></g>
<g transform="translate(577.7 299.7)"><circle r="6.65" fill="url(#gr)"/><ellipse cy="3" rx="3" ry="2.4" fill="url(#b2)"/><ellipse cy="-.4" rx="2.5" ry="3.3" fill="url(#h3)"/></g>
<g transform="translate(307.0 286.4)"><circle r="6.65" fill="url(#gg)"/><ellipse cy="3.1" rx="3.5" ry="2.5" fill="url(#b7)"/><ellipse cy="-.9" rx="2.2" ry="2.8" fill="url(#h3)"/></g>
<g transform="translate(572.2 286.4)"><circle r="6.65" fill="url(#gb)"/><ellipse cy="3" rx="3" ry="2.4" fill="url(#b1)"/><ellipse cy="-.4" rx="2.5" ry="3.3" fill="url(#h6)"/></g>
<g transform="translate(313.6 274.0)"><circle r="6.65" fill="url(#gg)"/><ellipse cy="3.1" rx="3.5" ry="2.5" fill="url(#b4)"/><ellipse cy="-.9" rx="2.2" ry="2.8" fill="url(#h6)"/></g>
<g transform="translate(565.6 274.0)"><circle r="6.65" fill="url(#gr)"/><ellipse cy="3.1" rx="3.5" ry="2.5" fill="url(#b2)"/><ellipse cy="-.9" rx="2.2" ry="2.8" fill="url(#h4)"/></g>
<g transform="translate(322.1 261.5)"><circle r="6.65" fill="url(#gg)"/><ellipse cy="3.1" rx="3.5" ry="2.5" fill="url(#b4)"/><ellipse cy="-.9" rx="2.2" ry="2.8" fill="url(#h2)"/></g>
<g transform="translate(557.1 261.5)"><circle r="6.65" fill="url(#gr)"/><ellipse cy="3.1" rx="3.5" ry="2.5" fill="url(#b3)"/><ellipse cy="-.9" rx="2.2" ry="2.8" fill="url(#h2)"/></g>
<g transform="translate(331.8 249.7)"><circle r="6.65" fill="url(#gg)"/><ellipse cy="3.1" rx="3.5" ry="2.5" fill="url(#b4)"/><ellipse cy="-.9" rx="2.2" ry="2.8" fill="url(#h4)"/></g>
<g transform="translate(547.4 249.7)"><circle r="6.65" fill="url(#gr)"/><ellipse cy="3" rx="3" ry="2.4" fill="url(#b6)"/><ellipse cy="-.4" rx="2.5" ry="3.3" fill="url(#h4)"/></g>
<g transform="translate(341.7 240.0)"><circle r="6.65" fill="url(#gg)"/><ellipse cy="3" rx="3" ry="2.4" fill="url(#b0)"/><ellipse cy="-.4" rx="2.5" ry="3.3" fill="url(#h4)"/></g>
<circle cx="537.5" cy="240.0" r="6.25" fill="url(#gx)"/>
<g transform="translate(357.9 227.4)"><circle r="6.65" fill="url(#gg)"/><ellipse cy="3.1" rx="3.5" ry="2.5" fill="url(#b0)"/><ellipse cy="-.9" rx="2.2" ry="2.8" fill="url(#h4)"/></g>
<g transform="translate(521.3 227.4)"><circle r="6.65" fill="url(#gg)"/><ellipse cy="3" rx="3" ry="2.4" fill="url(#b1)"/><ellipse cy="-.4" rx="2.5" ry="3.3" fill="url(#h3)"/></g>
<g transform="translate(368.1 221.2)"><circle r="6.65" fill="url(#gg)"/><ellipse cy="3.1" rx="3.5" ry="2.5" fill="url(#b2)"/><ellipse cy="-.9" rx="2.2" ry="2.8" fill="url(#h0)"/></g>
<g transform="translate(511.1 221.2)"><circle r="6.65" fill="url(#gb)"/><ellipse cy="3.1" rx="3.5" ry="2.5" fill="url(#b7)"/><ellipse cy="-.9" rx="2.2" ry="2.8" fill="url(#h3)"/></g>
<g transform="translate(381.5 214.6)"><circle r="6.65" fill="url(#gg)"/><ellipse cy="3" rx="3" ry="2.4" fill="url(#b6)"/><ellipse cy="-.4" rx="2.5" ry="3.3" fill="url(#h2)"/></g>
<g transform="translate(497.7 214.6)"><circle r="6.65" fill="url(#gb)"/><ellipse cy="3" rx="3" ry="2.4" fill="url(#b7)"/><ellipse cy="-.4" rx="2.5" ry="3.3" fill="url(#h1)"/></g>
<g transform="translate(393.1 210.2)"><circle r="6.65" fill="url(#gg)"/><ellipse cy="3" rx="3" ry="2.4" fill="url(#b7)"/><ellipse cy="-.4" rx="2.5" ry="3.3" fill="url(#h4)"/></g>
<g transform="translate(486.1 210.2)"><circle r="6.65" fill="url(#gg)"/><ellipse cy="3.1" rx="3.5" ry="2.5" fill="url(#b3)"/><ellipse cy="-.9" rx="2.2" ry="2.8" fill="url(#h3)"/></g>
<g transform="translate(407.1 206.2)"><circle r="6.65" fill="url(#gg)"/><ellipse cy="3.1" rx="3.5" ry="2.5" fill="url(#b4)"/><ellipse cy="-.9" rx="2.2" ry="2.8" fill="url(#h1)"/></g>
<g transform="translate(472.1 206.2)"><circle r="6.65" fill="url(#gg)"/><ellipse cy="3" rx="3" ry="2.4" fill="url(#b0)"/><ellipse cy="-.4" rx="2.5" ry="3.3" fill="url(#h0)"/></g>
<g transform="translate(419.3 204.0)"><circle r="6.65" fill="url(#gg)"/><ellipse cy="3.1" rx="3.5" ry="2.5" fill="url(#b3)"/><ellipse cy="-.9" rx="2.2" ry="2.8" fill="url(#h0)"/></g>
<g transform="translate(459.9 204.0)"><circle r="6.65" fill="url(#gg)"/><ellipse cy="3" rx="3" ry="2.4" fill="url(#b5)"/><ellipse cy="-.4" rx="2.5" ry="3.3" fill="url(#h5)"/></g>
<g transform="translate(433.1 202.7)"><circle r="6.65" fill="url(#gg)"/><ellipse cy="3.1" rx="3.5" ry="2.5" fill="url(#b7)"/><ellipse cy="-.9" rx="2.2" ry="2.8" fill="url(#h0)"/></g>
<g transform="translate(446.1 202.7)"><circle r="6.65" fill="url(#gg)"/><ellipse cy="3.1" rx="3.5" ry="2.5" fill="url(#b1)"/><ellipse cy="-.9" rx="2.2" ry="2.8" fill="url(#h6)"/></g>
<circle cx="313.0" cy="369.3" r="6.25" fill="url(#gx)"/>
<g transform="translate(566.2 369.3)"><circle r="6.65" fill="url(#gr)"/><ellipse cy="3" rx="3" ry="2.4" fill="url(#b4)"/><ellipse cy="-.4" rx="2.5" ry="3.3" fill="url(#h5)"/></g>
<g transform="translate(313.0 356.1)"><circle r="6.65" fill="url(#gg)"/><ellipse cy="3" rx="3" ry="2.4" fill="url(#b6)"/><ellipse cy="-.4" rx="2.5" ry="3.3" fill="url(#h0)"/></g>
<g transform="translate(566.2 356.1)"><circle r="6.65" fill="url(#gr)"/><ellipse cy="3.1" rx="3.5" ry="2.5" fill="url(#b6)"/><ellipse cy="-.9" rx="2.2" ry="2.8" fill="url(#h6)"/></g>
<circle cx="313.2" cy="342.9" r="6.25" fill="url(#gx)"/>
<g transform="translate(566.0 342.9)"><circle r="6.65" fill="url(#gr)"/><ellipse cy="3" rx="3" ry="2.4" fill="url(#b2)"/><ellipse cy="-.4" rx="2.5" ry="3.3" fill="url(#h4)"/></g>
<g transform="translate(314.6 329.7)"><circle r="6.65" fill="url(#gg)"/><ellipse cy="3" rx="3" ry="2.4" fill="url(#b3)"/><ellipse cy="-.4" rx="2.5" ry="3.3" fill="url(#h4)"/></g>
<g transform="translate(564.6 329.7)"><circle r="6.65" fill="url(#gr)"/><ellipse cy="3.1" rx="3.5" ry="2.5" fill="url(#b2)"/><ellipse cy="-.9" rx="2.2" ry="2.8" fill="url(#h1)"/></g>
<g transform="translate(317.6 315.5)"><circle r="6.65" fill="url(#gg)"/><ellipse cy="3" rx="3" ry="2.4" fill="url(#b5)"/><ellipse cy="-.4" rx="2.5" ry="3.3" fill="url(#h1)"/></g>
<g transform="translate(561.6 315.5)"><circle r="6.65" fill="url(#gr)"/><ellipse cy="3" rx="3" ry="2.4" fill="url(#b5)"/><ellipse cy="-.4" rx="2.5" ry="3.3" fill="url(#h1)"/></g>
<g transform="translate(322.0 302.6)"><circle r="6.65" fill="url(#gg)"/><ellipse cy="3" rx="3" ry="2.4" fill="url(#b3)"/><ellipse cy="-.4" rx="2.5" ry="3.3" fill="url(#h0)"/></g>
<g transform="translate(557.2 302.6)"><circle r="6.65" fill="url(#gr)"/><ellipse cy="3.1" rx="3.5" ry="2.5" fill="url(#b3)"/><ellipse cy="-.9" rx="2.2" ry="2.8" fill="url(#h1)"/></g>
<g transform="translate(328.3 289.1)"><circle r="6.65" fill="url(#gg)"/><ellipse cy="3" rx="3" ry="2.4" fill="url(#b4)"/><ellipse cy="-.4" rx="2.5" ry="3.3" fill="url(#h3)"/></g>
<g transform="translate(550.9 289.1)"><circle r="6.65" fill="url(#gb)"/><ellipse cy="3.1" rx="3.5" ry="2.5" fill="url(#b6)"/><ellipse cy="-.9" rx="2.2" ry="2.8" fill="url(#h4)"/></g>
<g transform="translate(335.3 277.7)"><circle r="6.65" fill="url(#gg)"/><ellipse cy="3.1" rx="3.5" ry="2.5" fill="url(#b2)"/><ellipse cy="-.9" rx="2.2" ry="2.8" fill="url(#h1)"/></g>
<g transform="translate(543.9 277.7)"><circle r="6.65" fill="url(#gb)"/><ellipse cy="3" rx="3" ry="2.4" fill="url(#b0)"/><ellipse cy="-.4" rx="2.5" ry="3.3" fill="url(#h0)"/></g>
<g transform="translate(344.6 265.7)"><circle r="6.65" fill="url(#gg)"/><ellipse cy="3.1" rx="3.5" ry="2.5" fill="url(#b5)"/><ellipse cy="-.9" rx="2.2" ry="2.8" fill="url(#h6)"/></g>
<g transform="translate(534.6 265.7)"><circle r="6.65" fill="url(#gr)"/><ellipse cy="3.1" rx="3.5" ry="2.5" fill="url(#b1)"/><ellipse cy="-.9" rx="2.2" ry="2.8" fill="url(#h5)"/></g>
<g transform="translate(354.3 255.9)"><circle r="6.65" fill="url(#gg)"/><ellipse cy="3.1" rx="3.5" ry="2.5" fill="url(#b5)"/><ellipse cy="-.9" rx="2.2" ry="2.8" fill="url(#h4)"/></g>
<g transform="translate(524.9 255.9)"><circle r="6.65" fill="url(#gr)"/><ellipse cy="3" rx="3" ry="2.4" fill="url(#b3)"/><ellipse cy="-.4" rx="2.5" ry="3.3" fill="url(#h6)"/></g>
<g transform="translate(374.1 241.0)"><circle r="6.65" fill="url(#gg)"/><ellipse cy="3" rx="3" ry="2.4" fill="url(#b1)"/><ellipse cy="-.4" rx="2.5" ry="3.3" fill="url(#h0)"/></g>
<g transform="translate(505.1 241.0)"><circle r="6.65" fill="url(#gg)"/><ellipse cy="3" rx="3" ry="2.4" fill="url(#b7)"/><ellipse cy="-.4" rx="2.5" ry="3.3" fill="url(#h1)"/></g>
<g transform="translate(386.3 234.5)"><circle r="6.65" fill="url(#gg)"/><ellipse cy="3" rx="3" ry="2.4" fill="url(#b1)"/><ellipse cy="-.4" rx="2.5" ry="3.3" fill="url(#h1)"/></g>
<g transform="translate(492.9 234.5)"><circle r="6.65" fill="url(#gb)"/><ellipse cy="3.1" rx="3.5" ry="2.5" fill="url(#b2)"/><ellipse cy="-.9" rx="2.2" ry="2.8" fill="url(#h2)"/></g>
<g transform="translate(402.6 228.3)"><circle r="6.65" fill="url(#gg)"/><ellipse cy="3" rx="3" ry="2.4" fill="url(#b1)"/><ellipse cy="-.4" rx="2.5" ry="3.3" fill="url(#h4)"/></g>
<g transform="translate(476.6 228.3)"><circle r="6.65" fill="url(#gb)"/><ellipse cy="3.1" rx="3.5" ry="2.5" fill="url(#b7)"/><ellipse cy="-.9" rx="2.2" ry="2.8" fill="url(#h0)"/></g>
<g transform="translate(415.2 225.1)"><circle r="6.65" fill="url(#gg)"/><ellipse cy="3.1" rx="3.5" ry="2.5" fill="url(#b5)"/><ellipse cy="-.9" rx="2.2" ry="2.8" fill="url(#h3)"/></g>
<g transform="translate(464.0 225.1)"><circle r="6.65" fill="url(#gb)"/><ellipse cy="3" rx="3" ry="2.4" fill="url(#b5)"/><ellipse cy="-.4" rx="2.5" ry="3.3" fill="url(#h3)"/></g>
<g transform="translate(433.1 222.9)"><circle r="6.65" fill="url(#gg)"/><ellipse cy="3.1" rx="3.5" ry="2.5" fill="url(#b5)"/><ellipse cy="-.9" rx="2.2" ry="2.8" fill="url(#h0)"/></g>
<g transform="translate(446.1 222.9)"><circle r="6.65" fill="url(#gg)"/><ellipse cy="3" rx="3" ry="2.4" fill="url(#b0)"/><ellipse cy="-.4" rx="2.5" ry="3.3" fill="url(#h6)"/></g>
<g transform="translate(333.2 368.3)"><circle r="6.65" fill="url(#gg)"/><ellipse cy="3" rx="3" ry="2.4" fill="url(#b6)"/><ellipse cy="-.4" rx="2.5" ry="3.3" fill="url(#h3)"/></g>
<circle cx="546.0" cy="368.3" r="6.25" fill="url(#gx)"/>
<g transform="translate(333.2 355.1)"><circle r="6.65" fill="url(#gg)"/><ellipse cy="3.1" rx="3.5" ry="2.5" fill="url(#b5)"/><ellipse cy="-.9" rx="2.2" ry="2.8" fill="url(#h3)"/></g>
<circle cx="546.0" cy="355.1" r="6.25" fill="url(#gx)"/>
<g transform="translate(333.9 337.5)"><circle r="6.65" fill="url(#gg)"/><ellipse cy="3.1" rx="3.5" ry="2.5" fill="url(#b2)"/><ellipse cy="-.9" rx="2.2" ry="2.8" fill="url(#h0)"/></g>
<g transform="translate(545.3 337.5)"><circle r="6.65" fill="url(#gr)"/><ellipse cy="3.1" rx="3.5" ry="2.5" fill="url(#b0)"/><ellipse cy="-.9" rx="2.2" ry="2.8" fill="url(#h2)"/></g>
<g transform="translate(336.3 323.7)"><circle r="6.65" fill="url(#gg)"/><ellipse cy="3.1" rx="3.5" ry="2.5" fill="url(#b6)"/><ellipse cy="-.9" rx="2.2" ry="2.8" fill="url(#h4)"/></g>
<g transform="translate(542.9 323.7)"><circle r="6.65" fill="url(#gr)"/><ellipse cy="3.1" rx="3.5" ry="2.5" fill="url(#b5)"/><ellipse cy="-.9" rx="2.2" ry="2.8" fill="url(#h6)"/></g>
<g transform="translate(341.8 307.3)"><circle r="6.65" fill="url(#gg)"/><ellipse cy="3.1" rx="3.5" ry="2.5" fill="url(#b4)"/><ellipse cy="-.9" rx="2.2" ry="2.8" fill="url(#h0)"/></g>
<g transform="translate(537.4 307.3)"><circle r="6.65" fill="url(#gr)"/><ellipse cy="3.1" rx="3.5" ry="2.5" fill="url(#b2)"/><ellipse cy="-.9" rx="2.2" ry="2.8" fill="url(#h6)"/></g>
<g transform="translate(348.0 295.2)"><circle r="6.65" fill="url(#gg)"/><ellipse cy="3.1" rx="3.5" ry="2.5" fill="url(#b2)"/><ellipse cy="-.9" rx="2.2" ry="2.8" fill="url(#h2)"/></g>
<g transform="translate(531.2 295.2)"><circle r="6.65" fill="url(#gr)"/><ellipse cy="3.1" rx="3.5" ry="2.5" fill="url(#b5)"/><ellipse cy="-.9" rx="2.2" ry="2.8" fill="url(#h6)"/></g>
<g transform="translate(357.6 281.6)"><circle r="6.65" fill="url(#gg)"/><ellipse cy="3" rx="3" ry="2.4" fill="url(#b2)"/><ellipse cy="-.4" rx="2.5" ry="3.3" fill="url(#h3)"/></g>
<g transform="translate(521.6 281.6)"><circle r="6.65" fill="url(#gr)"/><ellipse cy="3.1" rx="3.5" ry="2.5" fill="url(#b2)"/><ellipse cy="-.9" rx="2.2" ry="2.8" fill="url(#h0)"/></g>
<g transform="translate(366.5 272.0)"><circle r="6.65" fill="url(#gg)"/><ellipse cy="3" rx="3" ry="2.4" fill="url(#b4)"/><ellipse cy="-.4" rx="2.5" ry="3.3" fill="url(#h3)"/></g>
<g transform="translate(512.7 272.0)"><circle r="6.65" fill="url(#gr)"/><ellipse cy="3.1" rx="3.5" ry="2.5" fill="url(#b5)"/><ellipse cy="-.9" rx="2.2" ry="2.8" fill="url(#h5)"/></g>
<g transform="translate(388.1 256.3)"><circle r="6.65" fill="url(#gg)"/><ellipse cy="3" rx="3" ry="2.4" fill="url(#b0)"/><ellipse cy="-.4" rx="2.5" ry="3.3" fill="url(#h1)"/></g>
<g transform="translate(491.1 256.3)"><circle r="6.65" fill="url(#gb)"/><ellipse cy="3" rx="3" ry="2.4" fill="url(#b4)"/><ellipse cy="-.4" rx="2.5" ry="3.3" fill="url(#h2)"/></g>
<g transform="translate(404.7 248.8)"><circle r="6.65" fill="url(#gg)"/><ellipse cy="3" rx="3" ry="2.4" fill="url(#b6)"/><ellipse cy="-.4" rx="2.5" ry="3.3" fill="url(#h4)"/></g>
<g transform="translate(474.5 248.8)"><circle r="6.65" fill="url(#gb)"/><ellipse cy="3.1" rx="3.5" ry="2.5" fill="url(#b1)"/><ellipse cy="-.9" rx="2.2" ry="2.8" fill="url(#h3)"/></g>
<g transform="translate(417.5 245.3)"><circle r="6.65" fill="url(#gg)"/><ellipse cy="3" rx="3" ry="2.4" fill="url(#b7)"/><ellipse cy="-.4" rx="2.5" ry="3.3" fill="url(#h5)"/></g>
<g transform="translate(461.7 245.3)"><circle r="6.65" fill="url(#gb)"/><ellipse cy="3" rx="3" ry="2.4" fill="url(#b1)"/><ellipse cy="-.4" rx="2.5" ry="3.3" fill="url(#h6)"/></g>
<g transform="translate(433.1 243.1)"><circle r="6.65" fill="url(#gg)"/><ellipse cy="3.1" rx="3.5" ry="2.5" fill="url(#b0)"/><ellipse cy="-.9" rx="2.2" ry="2.8" fill="url(#h0)"/></g>
<g transform="translate(446.1 243.1)"><circle r="6.65" fill="url(#gg)"/><ellipse cy="3.1" rx="3.5" ry="2.5" fill="url(#b3)"/><ellipse cy="-.9" rx="2.2" ry="2.8" fill="url(#h2)"/></g>
<g transform="translate(353.4 364.2)"><circle r="6.65" fill="url(#gg)"/><ellipse cy="3" rx="3" ry="2.4" fill="url(#b0)"/><ellipse cy="-.4" rx="2.5" ry="3.3" fill="url(#h6)"/></g>
<g transform="translate(525.8 364.2)"><circle r="6.65" fill="url(#gr)"/><ellipse cy="3" rx="3" ry="2.4" fill="url(#b6)"/><ellipse cy="-.4" rx="2.5" ry="3.3" fill="url(#h0)"/></g>
<circle cx="353.4" cy="350.8" r="6.25" fill="url(#gx)"/>
<g transform="translate(525.8 350.8)"><circle r="6.65" fill="url(#gr)"/><ellipse cy="3.1" rx="3.5" ry="2.5" fill="url(#b4)"/><ellipse cy="-.9" rx="2.2" ry="2.8" fill="url(#h2)"/></g>
<g transform="translate(355.7 329.6)"><circle r="6.65" fill="url(#gg)"/><ellipse cy="3.1" rx="3.5" ry="2.5" fill="url(#b6)"/><ellipse cy="-.9" rx="2.2" ry="2.8" fill="url(#h4)"/></g>
<g transform="translate(523.5 329.6)"><circle r="6.65" fill="url(#gr)"/><ellipse cy="3.1" rx="3.5" ry="2.5" fill="url(#b1)"/><ellipse cy="-.9" rx="2.2" ry="2.8" fill="url(#h5)"/></g>
<g transform="translate(359.9 316.4)"><circle r="6.65" fill="url(#gg)"/><ellipse cy="3.1" rx="3.5" ry="2.5" fill="url(#b1)"/><ellipse cy="-.9" rx="2.2" ry="2.8" fill="url(#h4)"/></g>
<g transform="translate(519.3 316.4)"><circle r="6.65" fill="url(#gr)"/><ellipse cy="3.1" rx="3.5" ry="2.5" fill="url(#b0)"/><ellipse cy="-.9" rx="2.2" ry="2.8" fill="url(#h3)"/></g>
<g transform="translate(370.1 298.4)"><circle r="6.65" fill="url(#gg)"/><ellipse cy="3.1" rx="3.5" ry="2.5" fill="url(#b2)"/><ellipse cy="-.9" rx="2.2" ry="2.8" fill="url(#h3)"/></g>
<g transform="translate(509.1 298.4)"><circle r="6.65" fill="url(#gr)"/><ellipse cy="3.1" rx="3.5" ry="2.5" fill="url(#b2)"/><ellipse cy="-.9" rx="2.2" ry="2.8" fill="url(#h6)"/></g>
<g transform="translate(379.0 288.1)"><circle r="6.65" fill="url(#gg)"/><ellipse cy="3.1" rx="3.5" ry="2.5" fill="url(#b0)"/><ellipse cy="-.9" rx="2.2" ry="2.8" fill="url(#h3)"/></g>
<g transform="translate(500.2 288.1)"><circle r="6.65" fill="url(#gr)"/><ellipse cy="3.1" rx="3.5" ry="2.5" fill="url(#b6)"/><ellipse cy="-.9" rx="2.2" ry="2.8" fill="url(#h2)"/></g>
<g transform="translate(401.3 272.1)"><circle r="6.65" fill="url(#gg)"/><ellipse cy="3.1" rx="3.5" ry="2.5" fill="url(#b4)"/><ellipse cy="-.9" rx="2.2" ry="2.8" fill="url(#h2)"/></g>
<g transform="translate(477.9 272.1)"><circle r="6.65" fill="url(#gr)"/><ellipse cy="3" rx="3" ry="2.4" fill="url(#b7)"/><ellipse cy="-.4" rx="2.5" ry="3.3" fill="url(#h5)"/></g>
<g transform="translate(413.4 267.2)"><circle r="6.65" fill="url(#gg)"/><ellipse cy="3.1" rx="3.5" ry="2.5" fill="url(#b4)"/><ellipse cy="-.9" rx="2.2" ry="2.8" fill="url(#h5)"/></g>
<g transform="translate(465.8 267.2)"><circle r="6.65" fill="url(#gg)"/><ellipse cy="3" rx="3" ry="2.4" fill="url(#b4)"/><ellipse cy="-.4" rx="2.5" ry="3.3" fill="url(#h0)"/></g>
<g transform="translate(432.5 263.4)"><circle r="6.65" fill="url(#gg)"/><ellipse cy="3" rx="3" ry="2.4" fill="url(#b3)"/><ellipse cy="-.4" rx="2.5" ry="3.3" fill="url(#h4)"/></g>
<g transform="translate(446.7 263.4)"><circle r="6.65" fill="url(#gg)"/><ellipse cy="3.1" rx="3.5" ry="2.5" fill="url(#b2)"/><ellipse cy="-.9" rx="2.2" ry="2.8" fill="url(#h3)"/></g>
<g transform="translate(373.6 356.1)"><circle r="6.65" fill="url(#gg)"/><ellipse cy="3.1" rx="3.5" ry="2.5" fill="url(#b6)"/><ellipse cy="-.9" rx="2.2" ry="2.8" fill="url(#h0)"/></g>
<g transform="translate(505.6 356.1)"><circle r="6.65" fill="url(#gr)"/><ellipse cy="3.1" rx="3.5" ry="2.5" fill="url(#b6)"/><ellipse cy="-.9" rx="2.2" ry="2.8" fill="url(#h0)"/></g>
<g transform="translate(374.2 339.9)"><circle r="6.65" fill="url(#gg)"/><ellipse cy="3.1" rx="3.5" ry="2.5" fill="url(#b5)"/><ellipse cy="-.9" rx="2.2" ry="2.8" fill="url(#h0)"/></g>
<g transform="translate(505.0 339.9)"><circle r="6.65" fill="url(#gr)"/><ellipse cy="3.1" rx="3.5" ry="2.5" fill="url(#b3)"/><ellipse cy="-.9" rx="2.2" ry="2.8" fill="url(#h3)"/></g>
<g transform="translate(378.6 324.1)"><circle r="6.65" fill="url(#gg)"/><ellipse cy="3" rx="3" ry="2.4" fill="url(#b4)"/><ellipse cy="-.4" rx="2.5" ry="3.3" fill="url(#h6)"/></g>
<g transform="translate(500.6 324.1)"><circle r="6.65" fill="url(#gr)"/><ellipse cy="3.1" rx="3.5" ry="2.5" fill="url(#b1)"/><ellipse cy="-.9" rx="2.2" ry="2.8" fill="url(#h6)"/></g>
<circle cx="387.8" cy="308.4" r="6.25" fill="url(#gx)"/>
<g transform="translate(491.4 308.4)"><circle r="6.65" fill="url(#gr)"/><ellipse cy="3.1" rx="3.5" ry="2.5" fill="url(#b7)"/><ellipse cy="-.9" rx="2.2" ry="2.8" fill="url(#h1)"/></g>
<g transform="translate(399.3 297.0)"><circle r="6.65" fill="url(#gg)"/><ellipse cy="3.1" rx="3.5" ry="2.5" fill="url(#b3)"/><ellipse cy="-.9" rx="2.2" ry="2.8" fill="url(#h4)"/></g>
<circle cx="479.9" cy="297.0" r="6.25" fill="url(#gx)"/>
<g transform="translate(413.8 288.5)"><circle r="6.65" fill="url(#gg)"/><ellipse cy="3.1" rx="3.5" ry="2.5" fill="url(#b0)"/><ellipse cy="-.9" rx="2.2" ry="2.8" fill="url(#h4)"/></g>
<g transform="translate(465.4 288.5)"><circle r="6.65" fill="url(#gg)"/><ellipse cy="3.1" rx="3.5" ry="2.5" fill="url(#b1)"/><ellipse cy="-.9" rx="2.2" ry="2.8" fill="url(#h1)"/></g>
<g transform="translate(430.7 283.9)"><circle r="6.65" fill="url(#gg)"/><ellipse cy="3" rx="3" ry="2.4" fill="url(#b5)"/><ellipse cy="-.4" rx="2.5" ry="3.3" fill="url(#h4)"/></g>
<circle cx="448.5" cy="283.9" r="6.25" fill="url(#gx)"/>
<g transform="translate(439.6 357.2)"><circle r="6.9" fill="url(#gb)"/><ellipse cy="3" rx="3" ry="2.3" fill="url(#bp)"/><ellipse cy="-1.1" rx="1.8" ry="2.3" fill="url(#h4)"/></g>
</svg>
<!-- banner -->
<div style="position:absolute;left:43.2px;top:434.8px;width:9px;height:42.8px;background:#587aa9"></div>
<div style="position:absolute;left:52px;top:434.4px;width:724px;height:44px;background:#fff"></div>
<div class="abs t" id="vo1" style="left:55.2px;top:441px;font-size:31.4px;color:#1b1b1b;-webkit-text-stroke:.55px #1b1b1b;transform:scale(1.0835,1)">VOTACIÓN</div>
<div class="abs t" id="vo2" style="left:239.6px;top:441px;font-size:31.4px;color:#1b1b1b;-webkit-text-stroke:.55px #1b1b1b;transform:scale(1.0319,1)">EN</div>
<div class="abs t" id="vo3" style="left:302.9px;top:441px;font-size:31.4px;color:#1b1b1b;-webkit-text-stroke:.55px #1b1b1b;transform:scale(1.0086,1)">GENERAL</div>

<div class="abs t" id="hon" style="left:241px;top:488px;font-size:13px;-webkit-text-stroke:.3px #fff;transform:scale(1.2023,1)">Honorable Cámara de Diputados de la Nación - Período Ordinario N°143 - Reunión N°9 -</div>
<!-- logo -->
<div style="position:absolute;left:775.3px;top:403.4px;width:122.7px;height:74.4px;background:#fff;border-radius:0 3px 3px 0;overflow:hidden">
<svg width="124" height="75" viewBox="0 0 124 75" style="position:absolute;left:0;top:0">
<rect x="0" y="0" width="47.7" height="32" fill="#fdfdfd"/>
<path d="M0 0H16.5L0 28.5Z" fill="#8fcdf5"/>
<path d="M46 2L47.7 0V32H30Z" fill="#8fcdf5"/>
<circle cx="23.8" cy="16.3" r="7.2" fill="#fcecb8"/>
<circle cx="23.8" cy="16.3" r="4.4" fill="#f0b833"/><circle cx="23.8" cy="16.3" r="2.6" fill="#f3c43f"/>
<rect x="0" y="32" width="47.7" height="42.5" fill="#6f9fd3"/>
<rect x="6" y="39" width="35.4" height="1.3" fill="#b5d6f3"/>
<rect x="6" y="66.5" width="35.4" height="1.3" fill="#b5d6f3"/>
<g fill="none" stroke="#c2dbf0" stroke-dasharray="0.9 0.6">
<path d="M60.7 36.6A24.6 24.6 0 0 1 109.9 36.6" stroke-width="2"/>
<path d="M63.7 36.6A21.6 21.6 0 0 1 106.9 36.6" stroke-width="2"/>
<path d="M66.7 36.6A18.6 18.6 0 0 1 103.9 36.6" stroke-width="2"/>
<path d="M69.7 36.6A15.6 15.6 0 0 1 100.9 36.6" stroke-width="2"/>
<path d="M75.8 36.6A9.5 9.5 0 0 1 94.8 36.6" stroke-width="2"/>
<path d="M78.8 36.6A6.5 6.5 0 0 1 91.8 36.6" stroke-width="2"/>
<path d="M81.8 36.6A3.5 3.5 0 0 1 88.8 36.6" stroke-width="2"/>
</g>
</svg>
</div>
<div class="abs t" id="clk" style="left:783.8px;top:449.6px;font-size:16px;transform:scale(0.7282,1)">21:12</div>
<div class="abs t" id="dip" style="left:828.5px;top:445.5px;font-size:11px;color:#747474;-webkit-text-stroke:0;transform:scale(1.0083,1)">DIPUTADOS</div>
<div class="abs t" id="arg" style="left:836.2px;top:456.7px;font-size:6.5px;color:#6e6e6e;transform:scale(1.2552,1)">ARGENTINA</div>
<div id="stripsh"></div><div id="strip"></div>
</body></html>
